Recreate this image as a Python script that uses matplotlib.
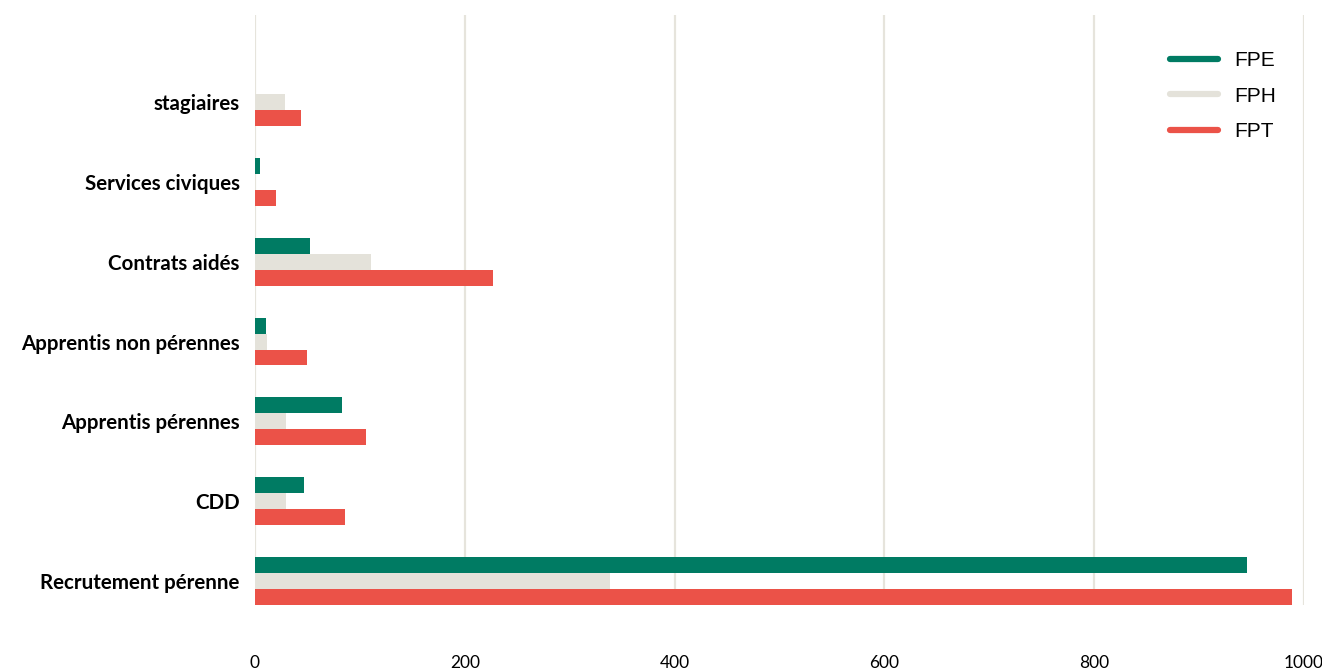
import numpy as np
import matplotlib
matplotlib.use("Agg")
import matplotlib.pyplot as plt
from matplotlib.lines import Line2D

# categories from bottom to top
categories = ["Recrutement pérenne", "CDD", "Apprentis pérennes",
              "Apprentis non pérennes", "Contrats aidés",
              "Services civiques", "stagiaires"]
fpe = [946, 47, 83, 10.5, 52, 5, 0]
fph = [338, 30, 30, 11, 111, 0, 28.5]
fpt = [989, 86, 106, 49.5, 227, 20, 44]

series = ["FPE", "FPH", "FPT"]
colors = ["#007B63", "#E4E2DA", "#EB5248"]

fig = plt.figure(figsize=(13.22, 6.7), dpi=100)
ax = fig.add_axes([255/1322, 65/670, (1304-255)/1322, (605-15)/670])

y = np.arange(len(categories))
h = 0.2
for vals, off, col in zip([fpe, fph, fpt], [h, 0, -h], colors):
    ax.barh(y + off, vals, height=h, color=col, zorder=3)

ax.set_xlim(0, 1000)
ax.set_ylim(-0.3, 7.09)
ax.set_xticks([0, 200, 400, 600, 800, 1000])
ax.set_yticks(y)
ax.set_yticklabels(categories, fontfamily="Lato", fontweight="bold", fontsize=14.8)
ax.grid(axis="x", color="#E6E4DC", linewidth=1.6, zorder=0)
for s in ax.spines.values():
    s.set_visible(False)
ax.tick_params(axis="x", length=0, pad=36, labelsize=12.5)
ax.tick_params(axis="y", length=0, pad=11)
for t in ax.get_xticklabels():
    t.set_fontfamily("Lato")

handles = [Line2D([0], [0], color=c, linewidth=4.5, solid_capstyle="round") for c in colors]
leg = ax.legend(handles, series, loc="upper right", bbox_to_anchor=(0.991, 0.971),
                frameon=False, handlelength=2.3, handletextpad=0.75,
                labelspacing=0.8, prop={"family": "Liberation Sans", "size": 15})

fig.savefig("out.png", dpi=100)
